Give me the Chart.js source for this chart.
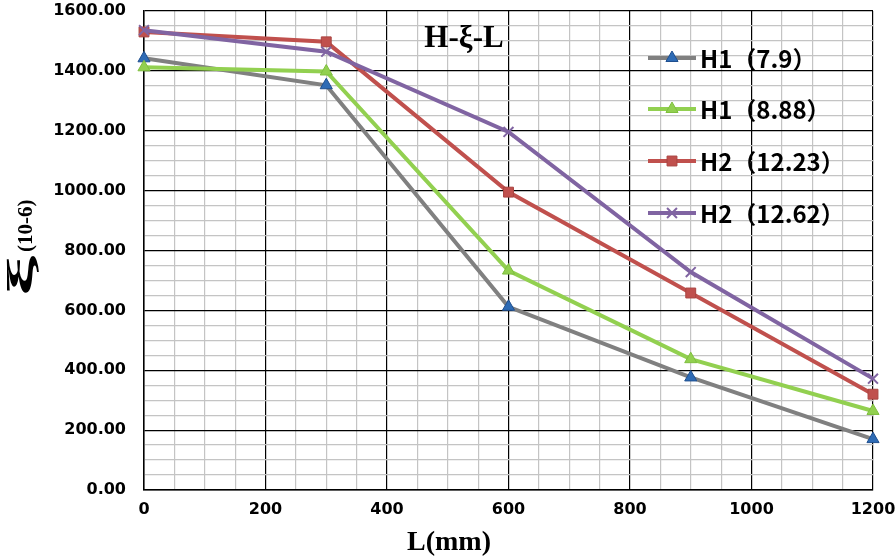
<!DOCTYPE html>
<html>
<head>
<meta charset="utf-8">
<script src="https://cdn.jsdelivr.net/npm/chart.js@4.4.0/dist/chart.umd.min.js"></script>
<style>
  html, body { margin: 0; padding: 0; background: #fff; }
  #wrap { width: 896px; height: 557px; }
</style>
</head>
<body>
<div id="wrap"><canvas id="lineChart" width="896" height="557"></canvas></div>
<script>
// distance along the member, mm
const distances = [0, 300, 600, 900, 1200];
// strain values, 10^-6
const h1_79 = [1442, 1352, 612, 376, 170];
const h1_888 = [1412, 1398, 733, 437, 264];
const h2_1223 = [1530, 1497, 995, 658, 320];
const h2_1262 = [1536, 1464, 1196, 728, 372];
const seriesLabels = ["H1（7.9）", "H1（8.88）", "H2（12.23）", "H2（12.62）"];

const toPoints = vals => vals.map((v, i) => ({ x: distances[i], y: v }));

const gridColor = step => ctx =>
  ctx.tick && ctx.tick.value % step === 0 ? "#000" : "#c4c4c4";

// drop the label overhang padding so the plot box sits where the layout padding puts it
const noPad = scale => {
  scale.paddingTop = 0;
  scale.paddingBottom = 0;
  scale.paddingLeft = 0;
  scale.paddingRight = 0;
};

const legendPlugin = {
  id: "insideLegend",
  afterDraw(chart) {
    const ctx = chart.ctx;
    const rows = [58, 109, 161, 213];
    ctx.save();
    // title inside the plot
    ctx.fillStyle = "#000";
    ctx.font = "bold 31px 'Liberation Serif'";
    ctx.textAlign = "center";
    ctx.textBaseline = "alphabetic";
    ctx.fillText("H-ξ-L", 464, 47);

    // legend entries
    chart.data.datasets.forEach((ds, i) => {
      const y = rows[i];
      ctx.strokeStyle = ds.borderColor;
      ctx.lineWidth = 4;
      ctx.beginPath();
      ctx.moveTo(648, y);
      ctx.lineTo(696, y);
      ctx.stroke();
      ctx.fillStyle = ds.pointBackgroundColor;
      ctx.strokeStyle = ds.pointBorderColor;
      ctx.lineWidth = ds.pointBorderWidth;
      Chart.helpers.drawPoint(ctx, {
        pointStyle: ds.pointStyle,
        radius: ds.pointRadius,
        borderWidth: ds.pointBorderWidth
      }, 672, y);
      ctx.fillStyle = "#000";
      ctx.font = "bold 24px 'Noto Sans CJK SC'";
      ctx.textAlign = "left";
      ctx.textBaseline = "middle";
      ctx.fillText(ds.label, 700, y + 1);
    });

    // axis titles
    ctx.textBaseline = "alphabetic";
    ctx.textAlign = "center";
    ctx.font = "bold 28px 'Liberation Serif'";
    ctx.fillText("L(mm)", 449, 550);

    // y title, read bottom to top; the xi is drawn wide like the original
    ctx.translate(32, 296);
    ctx.rotate(-Math.PI / 2);
    ctx.textAlign = "left";
    ctx.font = "bold 36px 'Liberation Serif'";
    const xiW = ctx.measureText("ξ").width;
    ctx.save();
    ctx.scale(40 / xiW, 1);
    ctx.fillText("ξ", 0, 0);
    ctx.restore();
    ctx.font = "bold 21px 'Liberation Serif'";
    ctx.fillText("(10-6)", 44, 0);
    ctx.restore();
  }
};

const makeSet = (label, vals, line, style, fill, border, order) => ({
  label: label,
  data: toPoints(vals),
  borderColor: line,
  borderWidth: 4,
  pointStyle: style,
  pointRadius: 7,
  pointHoverRadius: 7,
  pointBackgroundColor: fill,
  pointBorderColor: border,
  pointBorderWidth: style === "crossRot" ? 2 : 1,
  tension: 0,
  order: order,
  clip: false
});

let ctx = document.getElementById("lineChart").getContext("2d");
let myChart = new Chart(ctx, {
  type: "line",
  data: {
    datasets: [
      makeSet(seriesLabels[0], h1_79, "#808080", "triangle", "#2e6bb5", "#1f4f8f", 4),
      makeSet(seriesLabels[1], h1_888, "#92d050", "triangle", "#92d050", "#7fbf3f", 3),
      makeSet(seriesLabels[2], h2_1223, "#c0504d", "rect", "#c0504d", "#a94441", 2),
      makeSet(seriesLabels[3], h2_1262, "#8064a2", "crossRot", "#8064a2", "#8064a2", 1)
    ]
  },
  options: {
    responsive: false,
    animation: false,
    layout: { padding: { top: 11, right: 23, left: 0, bottom: 0 } },
    plugins: {
      legend: { display: false },
      tooltip: { enabled: false }
    },
    scales: {
      x: {
        type: "linear",
        min: 0,
        max: 1200,
        border: { color: "#000", width: 1.5 },
        grid: { color: gridColor(200), lineWidth: 1.2, drawTicks: false },
        afterFit: scale => { scale.height = 67; noPad(scale); },
        ticks: {
          stepSize: 50,
          autoSkip: false,
          maxRotation: 0,
          padding: 10,
          color: "#000",
          font: { family: "'DejaVu Sans'", weight: "bold", size: 16 },
          callback: v => (v % 200 === 0 ? String(v) : "")
        }
      },
      y: {
        min: 0,
        max: 1600,
        border: { color: "#000", width: 1.5 },
        grid: { color: gridColor(200), lineWidth: 1.2, drawTicks: false },
        afterFit: scale => { scale.width = 144; noPad(scale); },
        ticks: {
          stepSize: 50,
          autoSkip: false,
          padding: 18,
          color: "#000",
          font: { family: "'DejaVu Sans'", weight: "bold", size: 16 },
          callback: v => (v % 200 === 0 ? v.toFixed(2) : "")
        }
      }
    }
  },
  plugins: [legendPlugin]
});
</script>
</body>
</html>
